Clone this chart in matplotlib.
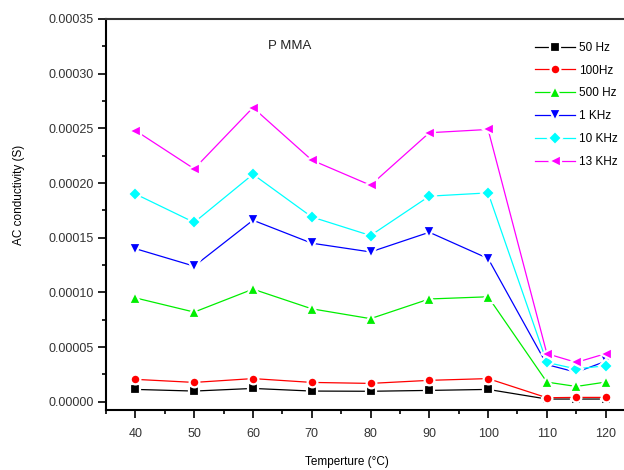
import matplotlib
matplotlib.use("Agg")
import matplotlib.pyplot as plt
from matplotlib.ticker import MultipleLocator, FormatStrFormatter

plt.rcParams['font.family'] = ['Liberation Sans', 'DejaVu Sans']

# temperature points (deg C)
temps = [40, 50, 60, 70, 80, 90, 100, 110, 115, 120]

# AC conductivity (S) per frequency
hz50 = [1.13e-5, 0.98e-5, 1.22e-5, 0.98e-5, 0.96e-5, 1.04e-5, 1.13e-5, 0.25e-5, 0.25e-5, 0.25e-5]
hz100 = [2.05e-5, 1.77e-5, 2.12e-5, 1.77e-5, 1.68e-5, 1.96e-5, 2.12e-5, 0.37e-5, 0.40e-5, 0.40e-5]
hz500 = [9.5e-5, 8.2e-5, 10.3e-5, 8.5e-5, 7.6e-5, 9.4e-5, 9.6e-5, 1.8e-5, 1.4e-5, 1.8e-5]
khz1 = [14.0e-5, 12.4e-5, 16.6e-5, 14.5e-5, 13.7e-5, 15.5e-5, 13.1e-5, 3.4e-5, 2.7e-5, 3.7e-5]
khz10 = [19.0e-5, 16.4e-5, 20.8e-5, 16.9e-5, 15.2e-5, 18.8e-5, 19.1e-5, 3.6e-5, 3.0e-5, 3.3e-5]
khz13 = [24.8e-5, 21.3e-5, 26.9e-5, 22.1e-5, 19.8e-5, 24.6e-5, 24.9e-5, 4.4e-5, 3.6e-5, 4.4e-5]

series = [hz50, hz100, hz500, khz1, khz10, khz13]
labels = ['50 Hz', '100Hz', '500 Hz', '1 KHz', '10 KHz', '13 KHz']
colors = ['#000000', '#ff0000', '#00ee00', '#0000ff', '#00ffff', '#ff00ff']
markers = ['s', 'o', '^', 'v', 'D', '<']
msizes = [6.5, 7, 8, 8, 7, 8]

fig = plt.figure(figsize=(6.24, 4.70), dpi=100)
# plot frame runs past the right edge of the figure
ax = fig.add_axes([0.1699, 0.1277, 0.8478, 0.8319])

for ys, lab, c, m, ms in zip(series, labels, colors, markers, msizes):
    ax.plot(temps, ys, color=c, lw=0.9, marker=m, ms=ms,
            mfc=c, mec='white', mew=1.6, label=lab)

ax.set_xlim(35, 125)
ax.set_ylim(-0.0000075, 0.00035)

ax.xaxis.set_major_locator(MultipleLocator(10))
ax.xaxis.set_minor_locator(MultipleLocator(5))
ax.yaxis.set_major_locator(MultipleLocator(0.00005))
ax.yaxis.set_minor_locator(MultipleLocator(0.000025))
ax.yaxis.set_major_formatter(FormatStrFormatter('%.5f'))
ax.set_xticks(temps[:7] + [110, 120])

ax.tick_params(which='major', direction='out', length=6, width=1.2,
               labelsize=9, pad=3, colors='black')
ax.tick_params(axis='x', which='major', pad=7)
ax.tick_params(which='minor', direction='out', length=3, width=1.2)
for lbl in ax.get_xticklabels() + ax.get_yticklabels():
    lbl.set_color('#333333')

ax.spines['left'].set_linewidth(1.5)
ax.spines['bottom'].set_linewidth(1.5)
ax.spines['top'].set_linewidth(1.5)
ax.spines['top'].set_color('#333333')
ax.spines['right'].set_visible(False)

ax.set_ylabel('AC conductivity (S)', fontsize=8.5)
ax.yaxis.set_label_coords(-0.153, 0.55)
ax.set_xlabel('Temperture (°C)', fontsize=8.5)
ax.xaxis.set_label_coords(0.456, -0.118)

ax.text(0.306, 0.931, 'P MMA', transform=ax.transAxes, fontsize=9.5,
        ha='left', va='center', color='#222222')

leg = ax.legend(loc='upper left', bbox_to_anchor=(0.81, 0.942), frameon=False,
                fontsize=8.5, handlelength=3.4, handletextpad=0.4,
                labelspacing=0.92, borderpad=0, borderaxespad=0)

fig.savefig('out.png', dpi=100)
